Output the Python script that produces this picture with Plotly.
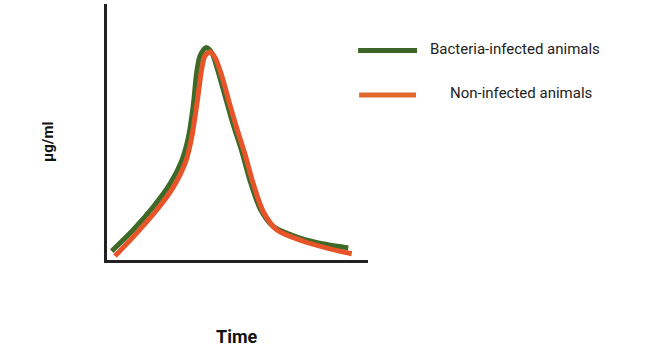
import plotly.graph_objects as go

# Data (arbitrary units; axes 0-100)
infected_x = [2.55, 10.76, 18.37, 24.71, 29.16, 31.67, 33.57, 34.87, 36.12, 38.40, 40.57,
              43.08, 46.27, 48.78, 51.98, 55.13, 58.94, 63.99, 74.14, 84.30, 92.51]
infected_y = [2.71, 11.12, 20.16, 29.19, 38.26, 47.29, 60.19, 73.14, 79.57, 82.83, 80.89,
              73.14, 61.51, 52.44, 42.13, 30.50, 19.50, 12.40, 7.87, 5.31, 3.99]

noninfected_x = [3.80, 12.05, 19.66, 25.97, 30.80, 32.93, 35.06, 36.77, 38.02, 39.92, 41.83,
                 44.37, 47.53, 50.08, 53.23, 56.39, 60.19, 65.29, 75.40, 85.55, 93.80]
noninfected_y = [0.78, 9.81, 18.88, 27.91, 38.26, 47.29, 61.51, 74.42, 79.57, 81.12, 78.95,
                 71.82, 60.19, 51.16, 40.81, 29.19, 18.22, 11.12, 6.59, 3.60, 1.67]

series_names = ["Bacteria-infected animals", "Non-infected animals"]
series_colors = ["#3e6a28", "#e8542a"]
legend_colors = ["#3e6527", "#e0692c"]
x_title = "Time"
y_title = "µg/ml"

fig = go.Figure()
fig.add_trace(go.Scatter(x=infected_x, y=infected_y, mode="lines", name=series_names[0],
                         line=dict(color=series_colors[0], width=5, shape="spline", smoothing=0.8)))
fig.add_trace(go.Scatter(x=noninfected_x, y=noninfected_y, mode="lines", name=series_names[1],
                         line=dict(color=series_colors[1], width=5, shape="spline", smoothing=0.8)))

axis_common = dict(showgrid=False, zeroline=False, showticklabels=False, ticks="",
                   showline=True, linecolor="#222222", linewidth=3, fixedrange=True)
fig.update_xaxes(range=[0.76, 100], **axis_common)
fig.update_yaxes(range=[-0.79, 100], **axis_common)

# custom legend
fig.add_shape(type="line", xref="paper", yref="paper", x0=0.962, x1=1.188, y0=0.818, y1=0.818,
              line=dict(color=legend_colors[0], width=5))
fig.add_shape(type="line", xref="paper", yref="paper", x0=0.966, x1=1.184, y0=0.645, y1=0.645,
              line=dict(color=legend_colors[1], width=5))
fig.add_annotation(text=series_names[0], xref="paper", yref="paper", x=1.230, y=0.826,
                   xanchor="left", yanchor="middle", showarrow=False,
                   font=dict(family="Roboto", size=15, color="#222222"))
fig.add_annotation(text=series_names[1], xref="paper", yref="paper", x=1.307, y=0.651,
                   xanchor="left", yanchor="middle", showarrow=False,
                   font=dict(family="Roboto", size=15, color="#222222"))

# axis titles
fig.add_annotation(text="<b>" + x_title + "</b>", xref="paper", yref="paper", x=0.498, y=-0.297,
                   xanchor="center", yanchor="middle", showarrow=False,
                   font=dict(family="Roboto", size=18, color="#111111"))
fig.add_annotation(text="<b>" + y_title + "</b>", xref="paper", yref="paper", x=-0.226, y=0.461,
                   xanchor="center", yanchor="middle", showarrow=False, textangle=-90,
                   font=dict(family="Roboto", size=15, color="#111111"))

fig.update_layout(width=650, height=355, showlegend=False,
                  margin=dict(l=107, r=282, t=4, b=95),
                  paper_bgcolor="white", plot_bgcolor="white")

fig.write_html("out.html", config={"displayModeBar": False},
               post_script="document.body.style.margin='0';")
